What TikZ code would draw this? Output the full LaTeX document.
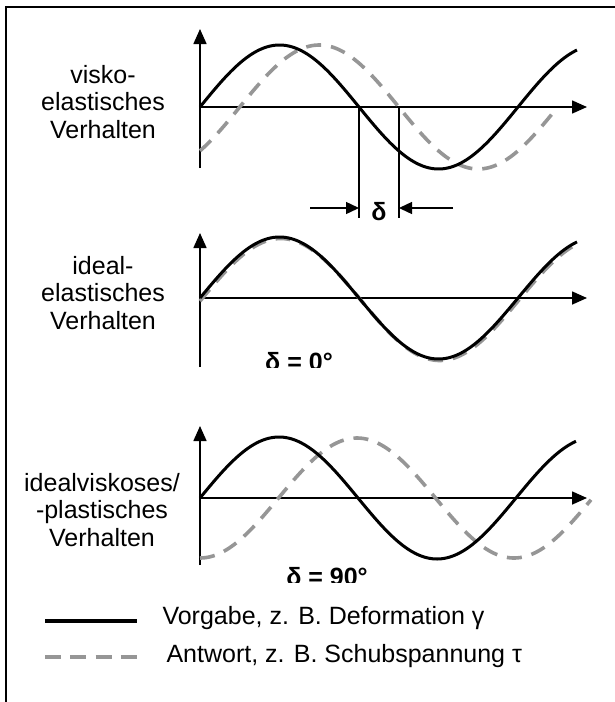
\documentclass[tikz,border=0pt]{standalone}
\usepackage{fontspec}
\setmainfont{Liberation Sans}
\usetikzlibrary{arrows.meta}
\definecolor{dgray}{RGB}{150,150,150}
\begin{document}
\begin{tikzpicture}[x=1pt,y=-1pt,
  axis/.style={line width=1.6pt,-{Triangle[length=15pt,width=13pt]}},
  solidc/.style={line width=3pt,black},
  dashc/.style={line width=3.6pt,dgray,dash pattern=on 15pt off 10pt},
  lbl/.style={font=\fontsize{25}{27.5}\selectfont,align=center},
  dlbl/.style={font=\fontsize{25}{27.5}\selectfont\bfseries},
  legtext/.style={font=\fontsize{25}{27.5}\selectfont,anchor=west}]
\useasboundingbox (0,0) rectangle (615,702);
% frame
\draw[line width=2.5pt] (6,702) -- (6,7) -- (615,7);

% ---------- top panel ----------
\coordinate (a1b) at (200,168);
\coordinate (a1t) at (200,29);
\coordinate (a1o) at (200,107);
\coordinate (a1r) at (587,107);
\draw[axis] (a1b) -- (a1t);
\draw[axis] (a1o) -- (a1r);
\draw[dashc] plot[domain=200:555,samples=150,smooth] (\x,{107-62*sin((\x-200)/318*360-45)});
\draw[solidc] plot[domain=200:577,samples=150,smooth] (\x,{107-62*sin((\x-200)/318*360)});
\node[lbl] (t1) at (103,102) {visko-\\elastisches\\Verhalten};
% delta marker
\coordinate (d1t) at (359,107);
\coordinate (d1b) at (359,218);
\coordinate (d2t) at (399,107);
\coordinate (d2b) at (399,218);
\draw[line width=1.6pt] (d1t) -- (d1b);
\draw[line width=1.6pt] (d2t) -- (d2b);
\coordinate (la) at (310,208);
\coordinate (ra) at (453,208);
\draw[line width=1.4pt,-{Triangle[length=13pt,width=12pt]}] (la) -- (d1b |- la);
\draw[line width=1.4pt,-{Triangle[length=13pt,width=12pt]}] (ra) -- (d2b |- ra);
\node[dlbl] (dl) at (379,212) {δ};

% ---------- middle panel ----------
\coordinate (a2b) at (200,367);
\coordinate (a2t) at (200,233);
\coordinate (a2o) at (200,298);
\coordinate (a2r) at (587,298);
\draw[axis] (a2b) -- (a2t);
\draw[axis] (a2o) -- (a2r);
\draw[dashc] plot[domain=200:577,samples=150,smooth] (\x,{299.5-61*sin((\x-200)/318*360-1.5)});
\draw[solidc] plot[domain=200:577,samples=150,smooth] (\x,{298-61*sin((\x-200)/318*360)});
\node[lbl] (t2) at (103,293) {ideal-\\elastisches\\Verhalten};
\begin{scope}
\clip (230,330) rectangle (360,367);
\node[dlbl] (d0) at (299,362) {δ = 0°};
\end{scope}

% ---------- bottom panel ----------
\coordinate (a3b) at (200,565);
\coordinate (a3t) at (200,426);
\coordinate (a3o) at (200,498);
\coordinate (a3r) at (587,498);
\draw[axis] (a3b) -- (a3t);
\draw[axis] (a3o) -- (a3r);
\draw[dashc] plot[domain=200:591,samples=150,smooth] (\x,{498-60*sin((\x-200)/314*360-90)});
\draw[solidc] plot[domain=200:576,samples=150,smooth] (\x,{498-61*sin((\x-200)/316*360)});
\node[lbl] (t3) at (102,510) {idealviskoses/\\-plastisches\\Verhalten};
\begin{scope}
\clip (260,550) rectangle (400,582);
\node[dlbl] (d90) at (327,577) {δ = 90°};
\end{scope}

% ---------- legend ----------
\coordinate (l1a) at (45,621);
\coordinate (l1b) at (137,621);
\coordinate (l2a) at (45,657);
\coordinate (l2b) at (137,657);
\draw[line width=3.5pt] (l1a) -- (l1b);
\draw[line width=4pt,dgray,dash pattern=on 16pt off 9.3pt] (l2a) -- (l2b);
\node[legtext] (v) at (159,618) {Vorgabe, z. B. Deformation γ};
\node[legtext] (w) at (163,656) {Antwort, z. B. Schubspannung τ};
\end{tikzpicture}
\end{document}
